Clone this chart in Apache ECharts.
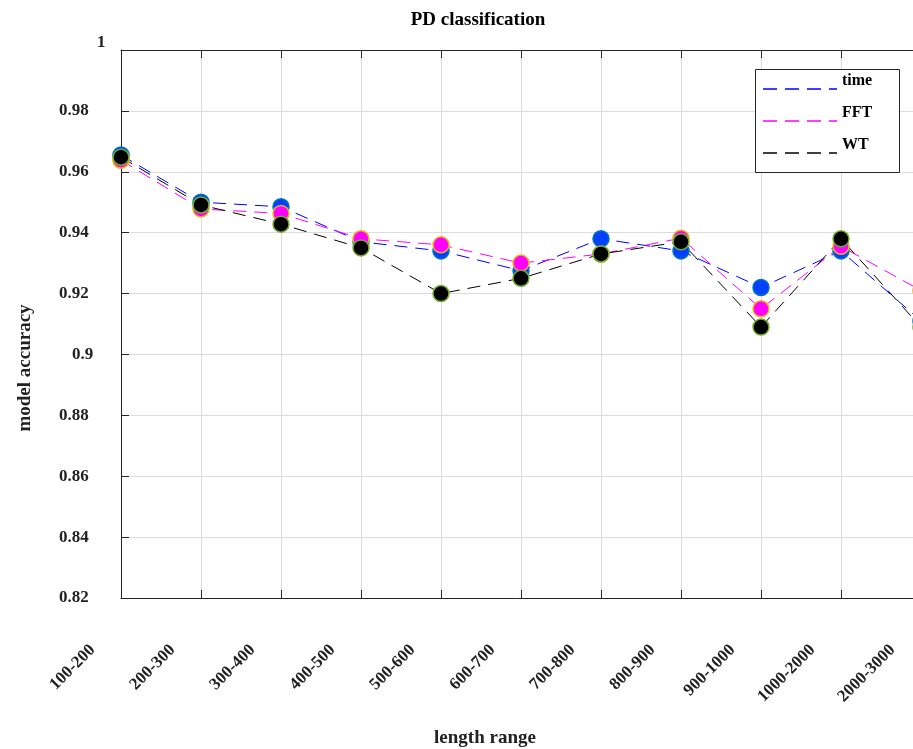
<!DOCTYPE html>
<html>
<head>
<meta charset="utf-8">
<script src="https://cdn.jsdelivr.net/npm/echarts@6/dist/echarts.min.js"></script>
<style>
  html, body { margin: 0; padding: 0; background: #fff; }
  #chart { width: 913px; height: 749px; }
</style>
</head>
<body>
<div id="chart"></div>
<script>
// Length ranges on the x axis
const categories = ['100-200', '200-300', '300-400', '400-500', '500-600', '600-700',
  '700-800', '800-900', '900-1000', '1000-2000', '2000-3000'];

// Model accuracy per length range for each feature representation
const timeAcc = [0.9655, 0.9500, 0.9485, 0.9370, 0.9340, 0.9275, 0.9380, 0.9340, 0.9220, 0.9340, 0.9110];
const fftAcc  = [0.9638, 0.9478, 0.9463, 0.9380, 0.9360, 0.9300, 0.9330, 0.9382, 0.9150, 0.9355, 0.9210];
const wtAcc   = [0.9648, 0.9491, 0.9428, 0.9350, 0.9200, 0.9250, 0.9330, 0.9370, 0.9090, 0.9380, 0.9090];

// Y axis range
const yMin = 0.82, yMax = 1.0, yStep = 0.02;

const FONT = '"Liberation Serif", "Times New Roman", serif';
const TXT = '#222';

const chart = echarts.init(document.getElementById('chart'), null, { renderer: 'canvas' });

function makeSeries(name, data, lineColor, fill, edge) {
  return {
    name: name,
    type: 'line',
    data: data,
    xAxisIndex: 0,
    yAxisIndex: 0,
    symbol: 'circle',
    symbolSize: 16,
    clip: false,
    lineStyle: { color: lineColor, width: 1, type: [13, 8] },
    itemStyle: { color: fill, borderColor: edge, borderWidth: 1.5 },
    emphasis: { disabled: true },
    animation: false
  };
}

function yLabel(v) {
  const r = Math.round(v * 100) / 100;
  if (Math.abs(r - 1) < 1e-9) return '{one|1}';
  if (Math.abs(r - 0.9) < 1e-9) return '{nine|0.9}';
  return '{n|' + String(r) + '}';
}

const labelRich = {
  n:    { fontFamily: FONT, fontWeight: 'bold', fontSize: 17, color: TXT },
  nine: { fontFamily: FONT, fontWeight: 'bold', fontSize: 17, color: TXT, padding: [0, 0, 0, 13] },
  one:  { fontFamily: FONT, fontWeight: 'bold', fontSize: 17, color: TXT, padding: [0, 0, 14, 38] }
};

const option = {
  backgroundColor: '#fff',
  animation: false,
  title: {
    text: 'PD classification',
    left: 473,
    top: 6,
    textAlign: 'center',
    textStyle: { fontFamily: FONT, fontWeight: 'bold', fontSize: 19, color: '#000' }
  },
  grid: { left: 121, top: 50, width: 800, height: 548, containLabel: false, outerBoundsMode: 'none' },
  xAxis: [
    {
      type: 'category',
      data: categories,
      boundaryGap: false,
      position: 'bottom',
      name: 'length range',
      nameLocation: 'middle',
      nameGap: 131,
      nameTextStyle: { fontFamily: FONT, fontWeight: 'bold', fontSize: 19, color: TXT, padding: [0, 72, 0, 0] },
      axisLine: { show: true, lineStyle: { color: '#262626', width: 1 } },
      axisTick: { show: true, inside: true, length: 8, alignWithLabel: true, lineStyle: { color: '#262626' } },
      axisLabel: {
        rotate: 45, margin: 21, interval: 0, hideOverlap: false,
        padding: [0, 40, 0, 0],
        fontFamily: FONT, fontWeight: 'bold', fontSize: 17, color: TXT
      },
      splitLine: { show: true, lineStyle: { color: '#dcdcdc', width: 1 } }
    },
    {
      type: 'category',
      data: categories,
      boundaryGap: false,
      position: 'top',
      axisLine: { show: true, lineStyle: { color: '#262626', width: 1 } },
      axisTick: { show: true, inside: true, length: 8, lineStyle: { color: '#262626' } },
      axisLabel: { show: false },
      splitLine: { show: false }
    }
  ],
  yAxis: [
    {
      type: 'value',
      min: yMin, max: yMax, interval: yStep,
      position: 'left',
      name: 'model accuracy',
      nameLocation: 'middle',
      nameGap: 86,
      nameRotate: 90,
      nameTextStyle: { fontFamily: FONT, fontWeight: 'bold', fontSize: 19, color: TXT, padding: [0, 88, 0, 0] },
      axisLine: { show: true, lineStyle: { color: '#262626', width: 1 } },
      axisTick: { show: true, inside: true, length: 8, lineStyle: { color: '#262626' } },
      axisLabel: {
        margin: 62, align: 'left', formatter: yLabel, rich: labelRich,
        fontFamily: FONT, fontWeight: 'bold', fontSize: 17, color: TXT
      },
      splitLine: { show: true, lineStyle: { color: '#dcdcdc', width: 1 } }
    },
    {
      type: 'value',
      min: yMin, max: yMax, interval: yStep,
      position: 'right',
      axisLine: { show: true, lineStyle: { color: '#262626', width: 1 } },
      axisTick: { show: true, inside: true, length: 8, lineStyle: { color: '#262626' } },
      axisLabel: { show: false },
      splitLine: { show: false }
    }
  ],
  series: [
    makeSeries('time', timeAcc, '#0000ff', '#0040ff', '#0072bd'),
    makeSeries('FFT',  fftAcc,  '#ff00ff', '#ff00ff', '#edb120'),
    makeSeries('WT',   wtAcc,   '#000000', '#000000', '#77ac30')
  ],
  graphic: []
};

chart.setOption(option);

// Legend box with dashed line samples, drawn from the series definitions
const legendBox = { x: 755, y: 69, w: 144, h: 103 };
const legendItems = option.series.map(s => ({ name: s.name, color: s.lineStyle.color }));
const legendGraphic = [{
  type: 'rect',
  shape: { x: legendBox.x + 0.5, y: legendBox.y + 0.5, width: legendBox.w, height: legendBox.h },
  style: { fill: '#fff', stroke: '#262626', lineWidth: 1 },
  z: 100
}];
legendItems.forEach((it, i) => {
  const ly = 89 + i * 32;
  legendGraphic.push({
    type: 'line',
    shape: { x1: 763, y1: ly, x2: 837, y2: ly },
    style: { stroke: it.color, lineWidth: 1.3, lineDash: [14, 8] },
    z: 101
  });
  legendGraphic.push({
    type: 'text',
    x: 842, y: ly - 8,
    style: {
      text: it.name, fill: '#000', font: 'bold 16px ' + FONT,
      textAlign: 'left', textVerticalAlign: 'middle'
    },
    z: 101
  });
});
chart.setOption({ graphic: legendGraphic });
</script>
</body>
</html>
